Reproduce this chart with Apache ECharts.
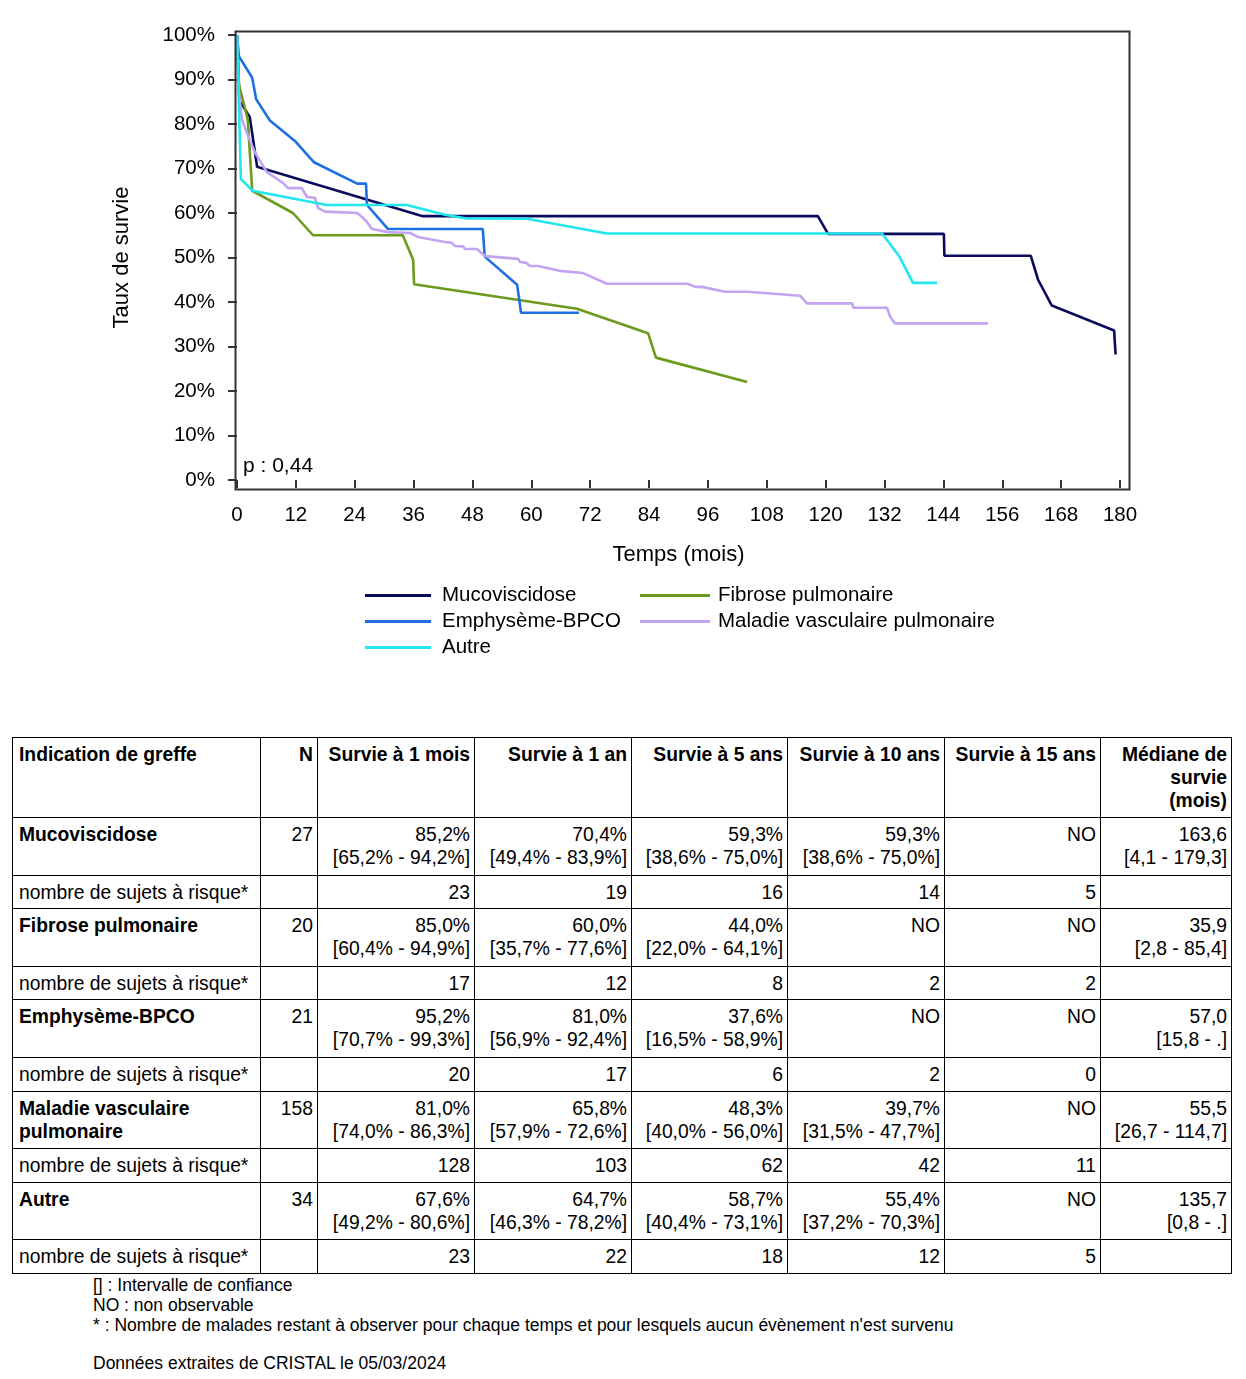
<!DOCTYPE html>
<html>
<head>
<meta charset="utf-8">
<script src="https://cdn.jsdelivr.net/npm/echarts@6/dist/echarts.min.js"></script>
<style>
  html, body { margin: 0; padding: 0; background: #fff; }
  body { width: 1246px; height: 1379px; position: relative; font-family: "Liberation Sans", Arial, sans-serif; color: #000; }
  #chart { position: absolute; left: 0; top: 0; width: 1246px; height: 700px; }
  #tbl { position: absolute; left: 12px; top: 737px; border-collapse: collapse; table-layout: fixed; font-size: 19.3px; line-height: 23px; }
  #tbl td { border: 1.5px solid #000; padding: 5px 4px 0 6px; vertical-align: top; text-align: right; overflow: hidden; }
  #tbl td.lab { text-align: left; }
  #tbl tr.hdr td { font-weight: bold; height: 74px; }
  #tbl tr.main td { height: 51.6px; }
  #tbl tr.risk td { height: 27.6px; }
  #tbl td.b { font-weight: bold; }
  #notes { position: absolute; left: 93px; top: 1275px; font-size: 17.5px; line-height: 20px; }
</style>
</head>
<body>
<div id="chart"></div>
<table id="tbl"></table>
<div id="notes"></div>
<script>
// ---------- Chart data (months, survival %) ----------
const seriesNames = ['Mucoviscidose', 'Fibrose pulmonaire', 'Emphysème-BPCO', 'Maladie vasculaire pulmonaire', 'Autre'];
const xTicks = [0, 12, 24, 36, 48, 60, 72, 84, 96, 108, 120, 132, 144, 156, 168, 180];
const yTicks = [0, 10, 20, 30, 40, 50, 60, 70, 80, 90, 100];

const mucoviscidose = [[0,100],[0.5,85.2],[2.6,81.6],[4.1,70.4],[37.7,59.3],[118.4,59.3],[120.5,55.3],[144.1,55.3],[144.2,50.4],[161.8,50.4],[163.3,45.0],[166.1,39.2],[178.8,33.6],[179.1,28.2]];
const fibrose = [[0,100],[0.4,88.8],[2.2,81.0],[3.1,65.0],[11.4,60.0],[15.5,55.0],[33.8,55.0],[35.9,49.5],[36.1,44.0],[69.3,38.5],[83.8,33.0],[85.4,27.5],[104.0,22.0]];
const emphyseme = [[0,100],[0.4,95.2],[3.1,90.4],[3.9,85.6],[6.7,80.8],[11.8,76.2],[15.7,71.4],[24.5,66.6],[26.3,66.6],[26.5,61.8],[30.8,56.4],[50.1,56.4],[50.5,50.2],[57.1,43.9],[57.9,37.6],[69.7,37.6]];
const maladieVasc = [[0,100],[0.3,88],[1.0,81.0],[2.6,76.4],[3.7,73.5],[6.1,69.2],[9.4,66.7],[10.4,65.6],[13.2,65.6],[14.3,63.6],[15.9,63.4],[16.5,61.1],[18.0,60.3],[24.5,60.0],[25.5,59.1],[26.5,58.0],[27.5,56.4],[30.8,55.7],[35.3,55.5],[36.9,54.6],[42.4,53.5],[43.8,53.3],[44.4,52.6],[46.1,52.5],[46.5,51.9],[48.9,51.9],[50.6,50.3],[57.3,49.7],[57.7,49.0],[59.0,48.8],[59.7,48.1],[61.4,48.1],[63.4,47.6],[65.8,47.0],[70.5,46.5],[72.4,45.6],[75.4,44.1],[91.9,44.1],[93.4,43.4],[94.8,43.4],[99.5,42.3],[104.0,42.3],[114.8,41.4],[116.2,39.7],[125.4,39.7],[125.6,38.7],[132.5,38.7],[133.1,36.8],[134.1,35.2],[153.1,35.2]];
const autre = [[0,100],[0.8,67.6],[3.2,65.0],[18.3,61.8],[34.6,61.8],[42.4,59.6],[46.5,58.8],[59.1,58.7],[75.4,55.4],[131.5,55.4],[135.1,50.1],[137.8,44.3],[142.7,44.3]];
const seriesData = [mucoviscidose, fibrose, emphyseme, maladieVasc, autre];
const seriesColors = ['#0b0b5e', '#6b9a1c', '#1f6fe4', '#c3a3f2', '#22e6ee'];
const pValueText = 'p : 0,44';

// ---------- Table data ----------
const indications = seriesNames;
const nPatients = [27, 20, 21, 158, 34];
const surv1Mois = [85.2, 85.0, 95.2, 81.0, 67.6];
const ci1Mois = [[65.2,94.2],[60.4,94.9],[70.7,99.3],[74.0,86.3],[49.2,80.6]];
const surv1An = [70.4, 60.0, 81.0, 65.8, 64.7];
const ci1An = [[49.4,83.9],[35.7,77.6],[56.9,92.4],[57.9,72.6],[46.3,78.2]];
const surv5Ans = [59.3, 44.0, 37.6, 48.3, 58.7];
const ci5Ans = [[38.6,75.0],[22.0,64.1],[16.5,58.9],[40.0,56.0],[40.4,73.1]];
const surv10Ans = [59.3, null, null, 39.7, 55.4];
const ci10Ans = [[38.6,75.0], null, null, [31.5,47.7], [37.2,70.3]];
const surv15Ans = [null, null, null, null, null];
const ci15Ans = [null, null, null, null, null];
const medianeSurvie = [163.6, 35.9, 57.0, 55.5, 135.7];
const ciMediane = [[4.1,179.3],[2.8,85.4],[15.8,null],[26.7,114.7],[0.8,null]];
const risk1Mois = [23, 17, 20, 128, 23];
const risk1An = [19, 12, 17, 103, 22];
const risk5Ans = [16, 8, 6, 62, 18];
const risk10Ans = [14, 2, 2, 42, 12];
const risk15Ans = [5, 2, 0, 11, 5];
const headers = ['Indication de greffe', 'N', 'Survie à 1 mois', 'Survie à 1 an', 'Survie à 5 ans', 'Survie à 10 ans', 'Survie à 15 ans', 'Médiane de survie (mois)'];
const riskLabel = 'nombre de sujets à risque*';
const notes = ['[] : Intervalle de confiance', 'NO : non observable', "* : Nombre de malades restant à observer pour chaque temps et pour lesquels aucun évènement n'est survenu", '', 'Données extraites de CRISTAL le 05/03/2024'];

// ---------- Chart ----------
const chart = echarts.init(document.getElementById('chart'), null, { renderer: 'canvas' });
const FONT = 'Liberation Sans, Arial, sans-serif';
chart.setOption({
  animation: false,
  backgroundColor: '#fff',
  grid: { left: 237, right: 126, top: 35, bottom: 220 },
  xAxis: {
    type: 'value', min: xTicks[0], max: xTicks[xTicks.length - 1], interval: 12, offset: 7,
    name: 'Temps (mois)', nameLocation: 'middle', nameGap: 57,
    nameTextStyle: { fontFamily: FONT, fontSize: 22, color: '#000' },
    axisLine: { show: false },
    axisTick: { show: true, length: 8, lineStyle: { color: '#333', width: 2 } },
    axisLabel: { margin: 18, fontFamily: FONT, fontSize: 20.5, color: '#000' },
    splitLine: { show: false }
  },
  yAxis: {
    type: 'value', min: yTicks[0], max: yTicks[yTicks.length - 1], interval: 10, offset: 4,
    name: 'Taux de survie', nameLocation: 'middle', nameGap: 100, nameRotate: 90,
    nameTextStyle: { fontFamily: FONT, fontSize: 22, color: '#000' },
    axisLine: { show: false },
    axisTick: { show: true, length: 9, lineStyle: { color: '#333', width: 2 } },
    axisLabel: { margin: 18, fontFamily: FONT, fontSize: 20.5, color: '#000', formatter: v => v + '%' },
    splitLine: { show: false }
  },
  legend: [
    {
      data: [seriesNames[0], seriesNames[2], seriesNames[4]],
      orient: 'vertical', left: 365, top: 585, padding: 0, itemGap: 5, itemWidth: 66, itemHeight: 3, icon: 'rect',
      textStyle: { fontFamily: FONT, fontSize: 20.5, color: '#000', padding: [0, 0, 0, 6] }
    },
    {
      data: [seriesNames[1], seriesNames[3]],
      orient: 'vertical', left: 640, top: 585, padding: 0, itemGap: 5, itemWidth: 70, itemHeight: 3, icon: 'rect',
      textStyle: { fontFamily: FONT, fontSize: 20.5, color: '#000', padding: [0, 0, 0, 3] }
    }
  ],
  graphic: [
    { type: 'rect', left: 233, top: 29, z: 100, silent: true,
      shape: { width: 894, height: 458 }, style: { fill: 'none', stroke: '#333', lineWidth: 2 } },
    { type: 'text', left: 243, top: 456, z: 100,
      style: { text: pValueText, font: '21px ' + FONT, fill: '#000' } }
  ],
  series: seriesNames.map((name, i) => ({
    name: name, type: 'line', data: seriesData[i], showSymbol: false, symbol: 'none',
    clip: false, color: seriesColors[i],
    lineStyle: { width: 2.6, color: seriesColors[i] }
  }))
});

// ---------- Table ----------
const fmt = v => v.toFixed(1).replace('.', ',');
const fmtCI = ci => '[' + fmt(ci[0]) + '% - ' + fmt(ci[1]) + '%]';
const survCell = (v, ci) => v === null ? 'NO' : fmt(v) + '%<br>' + fmtCI(ci);
const medCell = (v, ci) => fmt(v) + '<br>[' + fmt(ci[0]) + ' - ' + (ci[1] === null ? '.' : fmt(ci[1])) + ']';
const widths = [248, 57, 157, 157, 156, 157, 156, 131];
let html = '<colgroup>' + widths.map(w => '<col style="width:' + w + 'px">').join('') + '</colgroup>';
html += '<tr class="hdr">' + headers.map((h, j) => '<td class="' + (j === 0 ? 'lab' : '') + '">' + (j === 7 ? 'Médiane de<br>survie<br>(mois)' : h) + '</td>').join('') + '</tr>';
indications.forEach((ind, i) => {
  html += '<tr class="main"><td class="lab b">' + (ind === 'Maladie vasculaire pulmonaire' ? 'Maladie vasculaire<br>pulmonaire' : ind) + '</td>' +
    '<td>' + nPatients[i] + '</td>' +
    '<td>' + survCell(surv1Mois[i], ci1Mois[i]) + '</td>' +
    '<td>' + survCell(surv1An[i], ci1An[i]) + '</td>' +
    '<td>' + survCell(surv5Ans[i], ci5Ans[i]) + '</td>' +
    '<td>' + survCell(surv10Ans[i], ci10Ans[i]) + '</td>' +
    '<td>' + survCell(surv15Ans[i], ci15Ans[i]) + '</td>' +
    '<td>' + medCell(medianeSurvie[i], ciMediane[i]) + '</td></tr>';
  html += '<tr class="risk"><td class="lab">' + riskLabel + '</td><td></td>' +
    [risk1Mois, risk1An, risk5Ans, risk10Ans, risk15Ans].map(a => '<td>' + a[i] + '</td>').join('') +
    '<td></td></tr>';
});
document.getElementById('tbl').innerHTML = html;
document.getElementById('notes').innerHTML = notes.map(n => '<div style="height:' + (n === '' ? 18 : 20) + 'px">' + n + '</div>').join('');
</script>
</body>
</html>
